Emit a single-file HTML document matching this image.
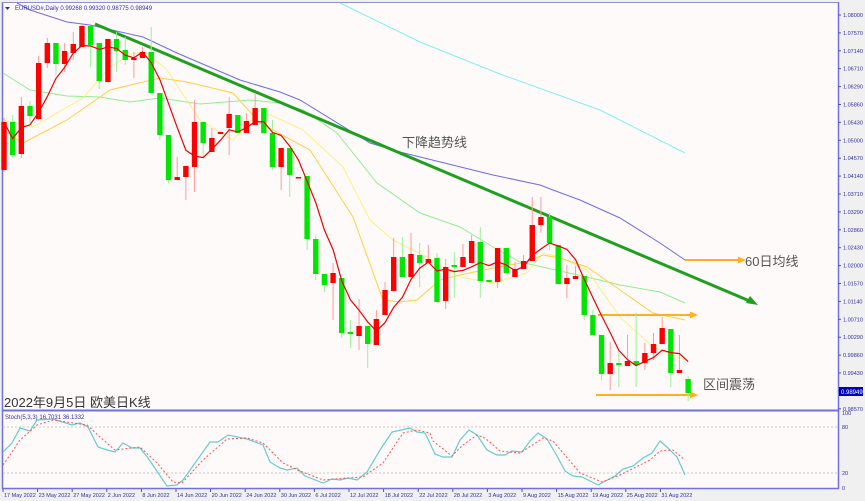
<!DOCTYPE html>
<html><head><meta charset="utf-8">
<style>
html,body{margin:0;padding:0;background:#f0f0f0;}
svg{display:block;font-family:"Liberation Sans","Noto Sans CJK SC",sans-serif;}
</style></head><body>
<svg id="c" width="865" height="501" viewBox="0 0 865 501" xmlns="http://www.w3.org/2000/svg">
<rect x="0" y="0" width="865" height="501" fill="#f0f0f0"/>
<rect x="2" y="2" width="837" height="487" fill="#fffafa"/>
<line x1="2.5" y1="2" x2="2.5" y2="489" stroke="#7070e0" stroke-width="1.5"/>
<line x1="2" y1="2.5" x2="839" y2="2.5" stroke="#9090d0" stroke-width="1"/>
<line x1="838.5" y1="2" x2="838.5" y2="489" stroke="#7070e0" stroke-width="1.5"/>
<line x1="2" y1="410.5" x2="839" y2="410.5" stroke="#7070e0" stroke-width="2"/>
<line x1="2" y1="488.5" x2="839" y2="488.5" stroke="#7070e0" stroke-width="1.5"/>
<line x1="3" y1="427" x2="838" y2="427" stroke="#c8c8c8" stroke-dasharray="2,2"/>
<line x1="3" y1="473" x2="838" y2="473" stroke="#c8c8c8" stroke-dasharray="2,2"/>
<g id="g"></g>
<text x="15" y="10" font-size="6" fill="#3030a0">EURUSD#,Daily  0.99268 0.99320 0.98775 0.98949</text>
<polygon points="5,7 10,7 7.5,10" fill="#3030a0"/>
<text x="5" y="419" font-size="6" fill="#3030a0">Stoch(5,3,3) 16.7031 36.1332</text>
<text x="4" y="407" font-size="13" fill="#333">2022年9月5日 欧美日K线</text>
<text x="402" y="147" font-size="13" fill="#555">下降趋势线</text>
<text x="745" y="266" font-size="13" fill="#555">60日均线</text>
<text x="703" y="389" font-size="13" fill="#555">区间震荡</text>
<rect x="839" y="387" width="24" height="9" fill="#0000c0"/>
<text x="841" y="394" font-size="6" fill="#fff">0.98949</text>
</svg>
<script>
var g=document.getElementById('g'),h='';
function pl(pts,col,w,dash){h+='<polyline fill="none" stroke="'+col+'" stroke-width="'+w+'"'+(dash?' stroke-dasharray="'+dash+'"':'')+' points="'+pts.map(p=>p.join(',')).join(' ')+'"/>';}
// price axis
var labs=['1.08000','1.07570','1.07140','1.06710','1.06290','1.05860','1.05430','1.05000','1.04570','1.04140','1.03710','1.03290','1.02860','1.02430','1.02000','1.01570','1.01140','1.00710','1.00290','0.99860','0.99430','','0.98570'];
labs.forEach((l,i)=>{var y=15+i*17.9;h+='<line x1="838" y1="'+y+'" x2="841" y2="'+y+'" stroke="#5050c0"/>';if(l)h+='<text x="843" y="'+(y+2)+'" font-size="5.5" fill="#3030a0">'+l+'</text>';});
[['100',413],['80',427],['20',473],['0',488]].forEach(a=>{h+='<text x="842" y="'+(a[1]+2)+'" font-size="5.5" fill="#3030a0">'+a[0]+'</text>';});
var dl=['17 May 2022','23 May 2022','27 May 2022','2 Jun 2022','8 Jun 2022','14 Jun 2022','20 Jun 2022','24 Jun 2022','30 Jun 2022','6 Jul 2022','12 Jul 2022','18 Jul 2022','22 Jul 2022','28 Jul 2022','3 Aug 2022','9 Aug 2022','15 Aug 2022','19 Aug 2022','25 Aug 2022','31 Aug 2022'];
dl.forEach((d,i)=>{var x=3+i*34.6;h+='<line x1="'+x+'" y1="489" x2="'+x+'" y2="492" stroke="#5050c0"/><text x="'+(x+1)+'" y="497" font-size="5.5" fill="#3030a0">'+d+'</text>';});
// MAs
pl([[340,3],[420,42],[500,74],[600,110],[685,153]],'#80f0f0',1);
pl([[17,3],[30,10],[67,22],[90,25],[143,37],[177,53],[240,80],[280,92],[300,100],[370,143],[400,152],[493,175],[540,185],[553,190],[580,200],[620,218],[660,243],[685,260]],'#6c6cf0',1);
pl([[3,73],[30,90],[67,96],[100,97],[130,102],[160,98],[200,104],[250,100],[280,103],[303,110],[337,133],[377,183],[420,213],[460,227],[493,247],[520,262],[587,277],[620,285],[660,292],[685,303]],'#90ee90',1);
pl([[3,120],[33,127],[83,98],[110,67],[133,53],[147,53],[167,70],[200,120],[233,140],[260,110],[303,130],[343,167],[370,220],[393,240],[427,257],[460,277],[493,283],[527,273],[543,253],[560,257],[587,270],[620,317],[653,347],[685,360]],'#ffee80',1);
pl([[3,130],[23,143],[67,120],[110,90],[160,78],[187,82],[233,93],[260,123],[310,150],[353,217],[383,300],[400,302],[417,300],[440,280],[460,275],[493,268],[527,262],[543,255],[560,258],[587,267],[620,290],[653,313],[685,320]],'#ffd040',1);
// trend line
h+='<line x1="95" y1="24" x2="752" y2="302" stroke="#1ea01e" stroke-width="3"/><polygon points="758,305 746,303 750,296" fill="#1ea01e"/>';
// orange arrows
[[685,260,738],[598,315,690],[596,395,690]].forEach(a=>{h+='<line x1="'+a[0]+'" y1="'+a[1]+'" x2="'+a[2]+'" y2="'+a[1]+'" stroke="#ffb020" stroke-width="2"/><polygon points="'+(a[2]+8)+','+a[1]+' '+a[2]+','+(a[1]-3.5)+' '+a[2]+','+(a[1]+3.5)+'" fill="#ffb020"/>';});
// candles: [color, top, bottom, high, low]  r=up(red) g=down(green)
var C=[['r',122,170,118,172],['g',122,155,115,158],['r',106,154,97,158],['g',106,116,101,123],['r',63,119,56,120],['r',43,63,38,68],['g',43,64,43,75],['r',51,64,43,72],['r',44,53,32,60],['r',26,47,23,47],['g',26,45,26,67],['g',43,81,43,89],['r',39,82,39,82],['g',39,51,32,72],['g',50,60,37,65],['r',58,60,52,78],['r',52,58,47,58],['g',52,93,27,93],['g',93,135,93,140],['g',135,180,135,183],['r',177,180,157,180],['r',166,177,166,200],['r',122,167,100,192],['g',122,143,122,157],['r',138,152,128,152],['r',132,134,132,134],['r',114,128,97,155],['g',115,133,115,133],['r',121,133,113,133],['r',108,125,94,125],['g',108,133,108,133],['g',133,167,120,170],['r',148,167,148,190],['g',148,175,148,197],['r',177,178,177,178],['g',176,239,176,250],['g',239,274,235,280],['g',274,285,274,292],['r',273,283,263,320],['g',278,333,278,338],['g',332,334,320,348],['r',326,336,299,350],['g',326,344,326,368],['r',319,345,310,345],['r',290,315,282,315],['r',257,291,238,291],['g',257,277,237,277],['r',254,277,233,277],['g',255,263,243,287],['r',259,263,245,263],['g',258,302,253,302],['r',267,301,259,309],['g',265,267,252,298],['r',257,267,244,267],['r',241,263,235,263],['g',242,281,227,298],['g',280,282,280,282],['r',248,282,248,288],['g',248,273,248,273],['r',269,277,262,277],['r',261,269,255,269],['r',225,261,197,261],['r',217,225,197,233],['g',217,243,213,250],['g',245,284,245,284],['r',278,284,265,298],['r',276,279,266,279],['g',276,315,276,320],['g',315,335,310,335],['g',335,374,335,380],['r',363,374,342,390],['g',363,365,350,387],['r',361,366,335,366],['g',361,365,313,387],['r',353,363,343,370],['r',344,353,333,360],['r',328,344,317,344],['g',329,373,329,387],['r',370,373,335,373],['g',379,393,376,401]];
var closes=[];
C.forEach((c,i)=>{var x=4+i*8.66;var up=c[0]=='r';var bc=up?'#ff0000':'#00e600',wc=up?'#ff9a9a':'#9af09a';
h+='<line x1="'+x+'" y1="'+c[3]+'" x2="'+x+'" y2="'+c[4]+'" stroke="'+wc+'" stroke-width="1"/>';
h+='<rect x="'+(x-2.7)+'" y="'+c[1]+'" width="5.4" height="'+Math.max(1.5,c[2]-c[1])+'" fill="'+bc+'"/>';
closes.push(up?c[1]:c[2]);});
var ma=[];closes.forEach((v,i)=>{var s=0,n=0;for(var k=Math.max(0,i-4);k<=i;k++){s+=closes[k];n++;}ma.push([4+i*8.66,(s/n).toFixed(1)]);});
pl(ma,'#ee0000',1.2);
// stoch
pl([[3,452],[12,443],[20,428],[30,431],[37,420],[53,419],[72,425],[80,423],[88,427],[98,447],[107,450],[115,452],[123,443],[132,448],[140,448],[148,458],[167,486],[177,485],[183,480],[210,442],[218,442],[228,435],[247,439],[263,445],[270,462],[280,468],[287,470],[297,468],[305,476],[323,483],[332,479],[340,480],[348,478],[357,480],[367,472],[380,450],[392,432],[410,428],[417,432],[425,433],[435,454],[443,457],[452,457],[460,440],[469,430],[477,435],[487,450],[497,455],[505,455],[512,451],[522,452],[530,441],[538,433],[547,439],[557,456],[565,471],[573,476],[582,477],[590,481],[598,485],[615,476],[623,469],[633,466],[643,458],[652,453],[660,441],[668,448],[677,457],[685,475]],'#66cccc',1.2);
pl([[3,465],[10,455],[20,440],[37,425],[53,420],[87,425],[100,437],[115,450],[140,447],[157,463],[173,482],[182,483],[203,460],[227,439],[247,438],[263,443],[283,463],[300,471],[323,480],[347,478],[363,477],[383,463],[403,433],[417,430],[430,433],[433,441],[452,456],[463,445],[477,435],[485,438],[500,451],[520,453],[543,438],[553,441],[580,473],[602,482],[620,475],[650,460],[660,451],[673,450],[685,460]],'#ff5050',1,'2,2');
g.innerHTML=h;
</script>
</body></html>
